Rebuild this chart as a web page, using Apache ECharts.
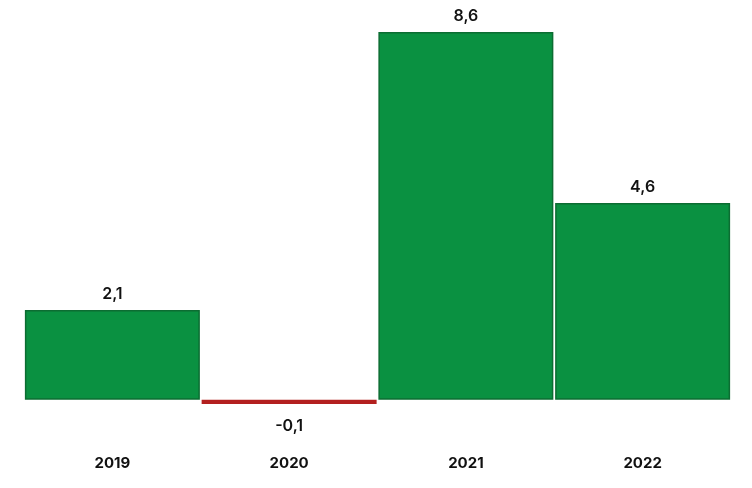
<!DOCTYPE html>
<html>
<head>
<meta charset="utf-8">
<script src="https://cdn.jsdelivr.net/npm/echarts@6/dist/echarts.min.js"></script>
<style>
  html, body { margin: 0; padding: 0; background: #fff; }
  #main { width: 752px; height: 488px; }
</style>
</head>
<body>
<div id="main"></div>
<script>
// 数据
var years = ['2019', '2020', '2021', '2022'];
var values = [2.1, -0.1, 8.6, 4.6];

function barColor(v) {
    return v < 0 ? '#b3201f' : '#0a9141';
}

var chart = echarts.init(document.getElementById('main'));

var option = {
    animation: false,
    grid: {
        left: 24,
        right: 21,
        top: 32,
        bottom: 84
    },
    xAxis: {
        type: 'category',
        data: years,
        axisLine: { show: false },
        axisTick: { show: false },
        axisLabel: {
            margin: 52,
            color: '#111',
            fontSize: 15,
            fontWeight: 'bold',
            fontFamily: 'Inter'
        }
    },
    yAxis: {
        type: 'value',
        min: -0.1,
        max: 8.6,
        show: false,
        splitLine: { show: false }
    },
    series: [{
        type: 'bar',
        barCategoryGap: '1%',
        data: values.map(function (v) {
            return {
                value: v,
                itemStyle: {
                    color: barColor(v),
                    borderColor: v < 0 ? '#a01a1a' : '#0c6d32',
                    borderWidth: v < 0 ? 0 : 1.5
                },
                label: {
                    position: v < 0 ? 'bottom' : 'top',
                    distance: v < 0 ? 14 : 8
                }
            };
        }),
        label: {
            show: true,
            color: '#111',
            fontSize: 16,
            fontWeight: 600,
            fontFamily: 'Inter',
            formatter: function (p) {
                return String(p.value).replace('.', ',');
            }
        }
    }]
};

chart.setOption(option);
</script>
</body>
</html>
